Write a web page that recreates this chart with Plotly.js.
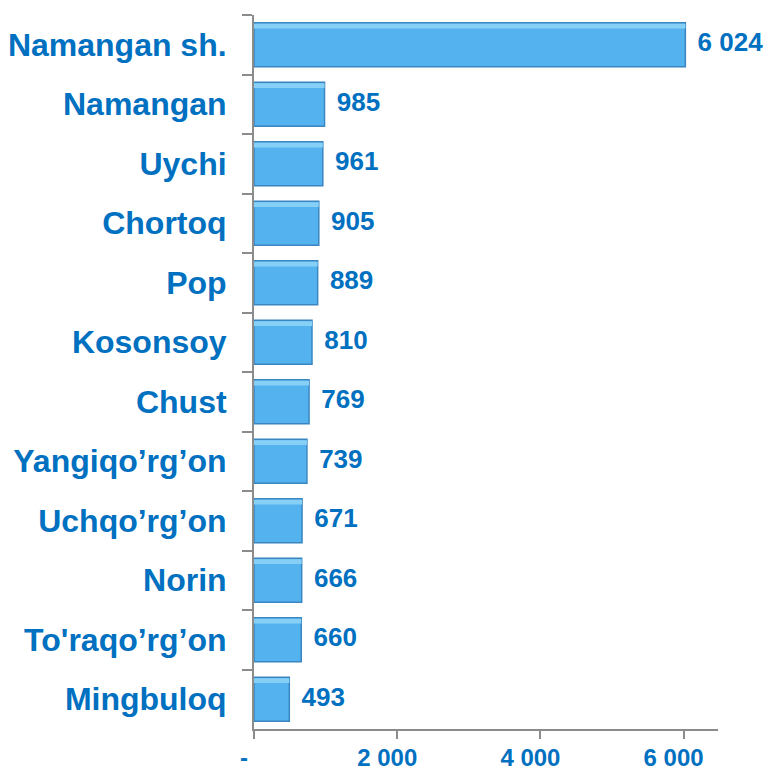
<!DOCTYPE html>
<html>
<head>
<meta charset="utf-8">
<script src="https://cdn.plot.ly/plotly-3.0.1.min.js"></script>
<style>html,body{margin:0;padding:0;background:#fff;}#chart{width:767px;height:771px;}</style>
</head>
<body>
<div id="chart"></div>
<script>
const categories = ["Namangan sh.", "Namangan", "Uychi", "Chortoq", "Pop", "Kosonsoy", "Chust",
  "Yangiqo\u2019rg\u2019on", "Uchqo\u2019rg\u2019on", "Norin", "To'raqo\u2019rg\u2019on", "Mingbuloq"];
const values = [6024, 985, 961, 905, 889, 810, 769, 739, 671, 666, 660, 493];
const xTickVals = [0, 2000, 4000, 6000];
const xTickText = ["-", "2 000", "4 000", "6 000"];

const blue = "#0070C0";
const fontFam = "Liberation Sans, Arial, sans-serif";

const traces = [
  {
    type: "bar", orientation: "h", y: categories, x: values,
    marker: { color: "#54B3EE", line: { color: "#3A86C0", width: 1.5 } },
    hoverinfo: "skip", showlegend: false
  },
  {
    type: "bar", orientation: "h", y: categories, x: values, width: 0.08, offset: -0.355,
    marker: { color: "#86CFF7", line: { width: 0 } },
    hoverinfo: "skip", showlegend: false
  },
  {
    type: "scatter", mode: "markers+text", y: categories, x: values,
    text: values.map(v => v.toLocaleString("en-US").replace(/,/g, " ")),
    textposition: "middle right",
    textfont: { family: fontFam, size: 26, color: blue, weight: "bold" },
    marker: { size: 18, opacity: 0 },
    cliponaxis: false, hoverinfo: "skip", showlegend: false
  }
];

const layout = {
  width: 767, height: 771,
  margin: { l: 254, r: 49, t: 15, b: 42 },
  paper_bgcolor: "#fff", plot_bgcolor: "#fff",
  barmode: "overlay", bargap: 0.26,
  showlegend: false,
  xaxis: {
    range: [0, 6480], tickvals: xTickVals, ticktext: xTickText,
    showgrid: false, zeroline: false,
    showline: true, linecolor: "#8C8C8C", linewidth: 2,
    ticks: "outside", ticklen: 8, tickwidth: 2, tickcolor: "#8C8C8C",
    ticklabelshift: -10, ticklabelstandoff: -2,
    tickfont: { family: fontFam, size: 24, color: blue, weight: "bold" }
  },
  yaxis: {
    type: "category", range: [11.5, -0.5],
    showgrid: false, zeroline: false,
    showline: true, linecolor: "#8C8C8C", linewidth: 2,
    ticks: "outside", ticklen: 10, tickwidth: 2, tickcolor: "#8C8C8C",
    tickson: "boundaries",
    ticklabelstandoff: 19,
    tickfont: { family: fontFam, size: 32, color: blue, weight: "bold" }
  }
};

Plotly.newPlot("chart", traces, layout, { displayModeBar: false, staticPlot: true });
</script>
</body>
</html>
